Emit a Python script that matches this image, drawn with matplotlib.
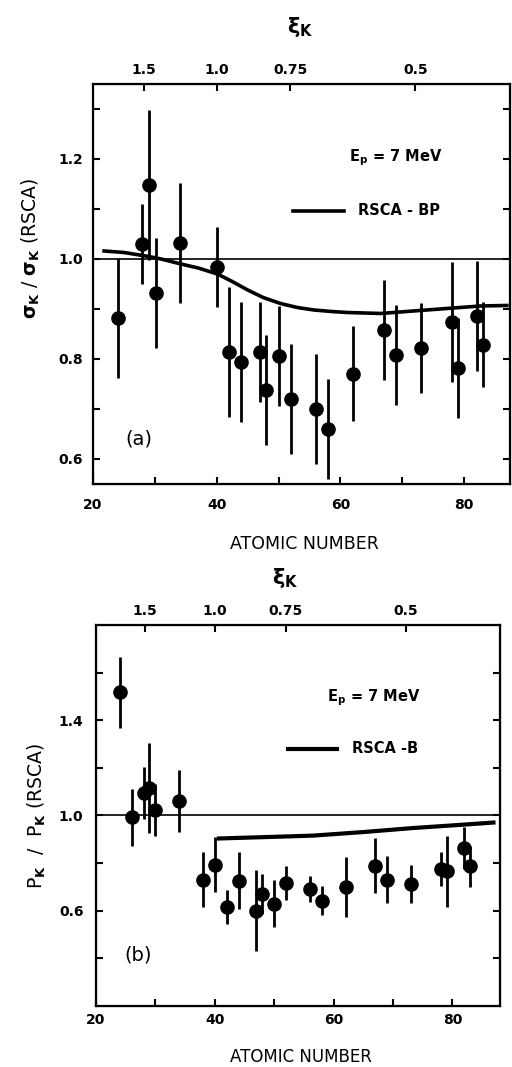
import numpy as np
import matplotlib
matplotlib.use("Agg")
import matplotlib.pyplot as plt

plt.rcParams['font.family'] = 'DejaVu Sans'
plt.rcParams['font.weight'] = 'bold'
plt.rcParams['mathtext.fontset'] = 'dejavusans'
plt.rcParams['mathtext.default'] = 'bf'

# (a) sigma_K / sigma_K(RSCA)
za = [24, 28, 29, 30.2, 34, 40, 42, 44, 47, 48, 50, 52, 56, 58, 62, 67, 69, 73, 78, 79, 82, 83]
va = [0.882, 1.03, 1.148, 0.931, 1.031, 0.983, 0.813, 0.794, 0.813, 0.737, 0.805, 0.72,
      0.70, 0.66, 0.77, 0.857, 0.807, 0.821, 0.873, 0.781, 0.885, 0.828]
ea = [0.12, 0.08, 0.15, 0.11, 0.12, 0.08, 0.13, 0.12, 0.10, 0.11, 0.10, 0.11,
      0.11, 0.10, 0.095, 0.10, 0.10, 0.09, 0.12, 0.10, 0.11, 0.085]
curve_a_z = [21.8, 25, 29, 31, 34.2, 37, 40.1, 42.5, 45, 47.5, 50.3, 53, 55.7, 58.5, 61.1,
             66.5, 71.8, 77.2, 82.6, 86.9]
curve_a_v = [1.016, 1.013, 1.005, 1.0, 0.99, 0.982, 0.97, 0.955, 0.938, 0.923, 0.911, 0.903,
             0.898, 0.895, 0.893, 0.891, 0.896, 0.901, 0.906, 0.907]

# (b) P_K / P_K(RSCA)
zb = [24, 26, 28, 29, 30, 34, 38, 40, 42, 44, 47, 48, 50, 52, 56, 58, 62, 67, 69, 73,
      78, 79, 82, 83]
vb = [1.517, 0.993, 1.094, 1.115, 1.024, 1.062, 0.73, 0.793, 0.615, 0.726, 0.60, 0.67,
      0.629, 0.716, 0.691, 0.642, 0.70, 0.789, 0.73, 0.713, 0.775, 0.765, 0.863, 0.786]
eb = [0.15, 0.12, 0.11, 0.19, 0.11, 0.13, 0.117, 0.115, 0.07, 0.12, 0.17, 0.085,
      0.10, 0.07, 0.055, 0.06, 0.125, 0.115, 0.10, 0.08, 0.07, 0.15, 0.09, 0.085]
curve_b_z = [40.7, 50, 56.5, 65, 73.4, 80, 86.9]
curve_b_v = [0.903, 0.91, 0.915, 0.93, 0.947, 0.958, 0.97]

xi_pos = [28.2, 40, 51.9, 72.1]
xi_labels = ['1.5', '1.0', '0.75', '0.5']

fig = plt.figure(figsize=(5.12, 10.67), dpi=100)
ax1 = fig.add_axes([0.1816, 0.5464, 0.8145, 0.3749])
ax2 = fig.add_axes([0.1875, 0.0574, 0.789, 0.3568])


def style(ax, xlim, ylim, yt, ytl, xpad, ypad):
    ax.set_xlim(*xlim)
    ax.set_ylim(*ylim)
    ax.set_xticks([20, 30, 40, 50, 60, 70, 80])
    ax.set_xticklabels(['20', '', '40', '', '60', '', '80'])
    ax.set_yticks(yt)
    ax.set_yticklabels(ytl)
    for s in ax.spines.values():
        s.set_linewidth(1.6)
    ax.tick_params(direction='in', length=5, width=1.5, right=True, labelsize=10)
    ax.tick_params(axis='x', pad=xpad)
    ax.tick_params(axis='y', pad=ypad)
    ax.axhline(1.0, color='black', lw=1.2)
    top = ax.twiny()
    top.set_xlim(*xlim)
    top.set_xticks(xi_pos)
    top.set_xticklabels(xi_labels)
    top.tick_params(direction='in', length=5, width=1.5, labelsize=10, pad=5)
    return top


top1 = style(ax1, (20, 87.4), (0.55, 1.35),
             [0.6, 0.7, 0.8, 0.9, 1.0, 1.1, 1.2, 1.3],
             ['0.6', '', '0.8', '', '1.0', '', '1.2', ''], 10, 7)
top2 = style(ax2, (20, 88.0), (0.2, 1.8),
             [0.4, 0.6, 0.8, 1.0, 1.2, 1.4, 1.6],
             ['', '0.6', '', '1.0', '', '1.4', ''], 5, 9)

ax1.errorbar(za, va, yerr=ea, fmt='o', color='black', ms=9.5, elinewidth=2, capsize=0)
ax1.plot(curve_a_z, curve_a_v, color='black', lw=2.6)
ax2.errorbar(zb, vb, yerr=eb, fmt='o', color='black', ms=9.5, elinewidth=2, capsize=0)
ax2.plot(curve_b_z, curve_b_v, color='black', lw=3)

# legends / annotations
ax1.text(69.0, 1.202, r'E$_{\mathbf{p}}$ = 7 MeV', ha='center', va='center', fontsize=10.5)
ax1.plot([52.4, 60.5], [1.096, 1.096], color='black', lw=2.6)
ax1.text(62.9, 1.096, 'RSCA - BP', ha='left', va='center', fontsize=10.5)
ax1.text(25.3, 0.64, '(a)', ha='left', va='center', fontsize=14, fontweight='normal')

ax2.text(66.8, 1.495, r'E$_{\mathbf{p}}$ = 7 MeV', ha='center', va='center', fontsize=10.5)
ax2.plot([52.3, 60.5], [1.28, 1.28], color='black', lw=3)
ax2.text(63.1, 1.28, 'RSCA -B', ha='left', va='center', fontsize=10.5)
ax2.text(24.8, 0.415, '(b)', ha='left', va='center', fontsize=14, fontweight='normal')

ax1.set_xlabel('ATOMIC NUMBER', fontsize=12.5, fontweight='normal')
ax1.xaxis.set_label_coords(0.506, -0.128)
ax2.set_xlabel('ATOMIC NUMBER', fontsize=12, fontweight='normal')
ax2.xaxis.set_label_coords(0.507, -0.112)

ax1.set_ylabel(r'$\sigma_K$ / $\sigma_K$ (RSCA)', fontsize=13.5)
ax1.yaxis.set_label_coords(-0.122, 0.59)
ax2.set_ylabel(r'P$_K$  /  P$_K$ (RSCA)', fontsize=13.5)
ax2.yaxis.set_label_coords(-0.119, 0.50)

ax1.text(0.496, 1.1425, r'$\xi_K$', transform=ax1.transAxes, ha='center', va='center', fontsize=15)
ax2.text(0.468, 1.123, r'$\xi_K$', transform=ax2.transAxes, ha='center', va='center', fontsize=15)

fig.savefig('out.png', dpi=100)
